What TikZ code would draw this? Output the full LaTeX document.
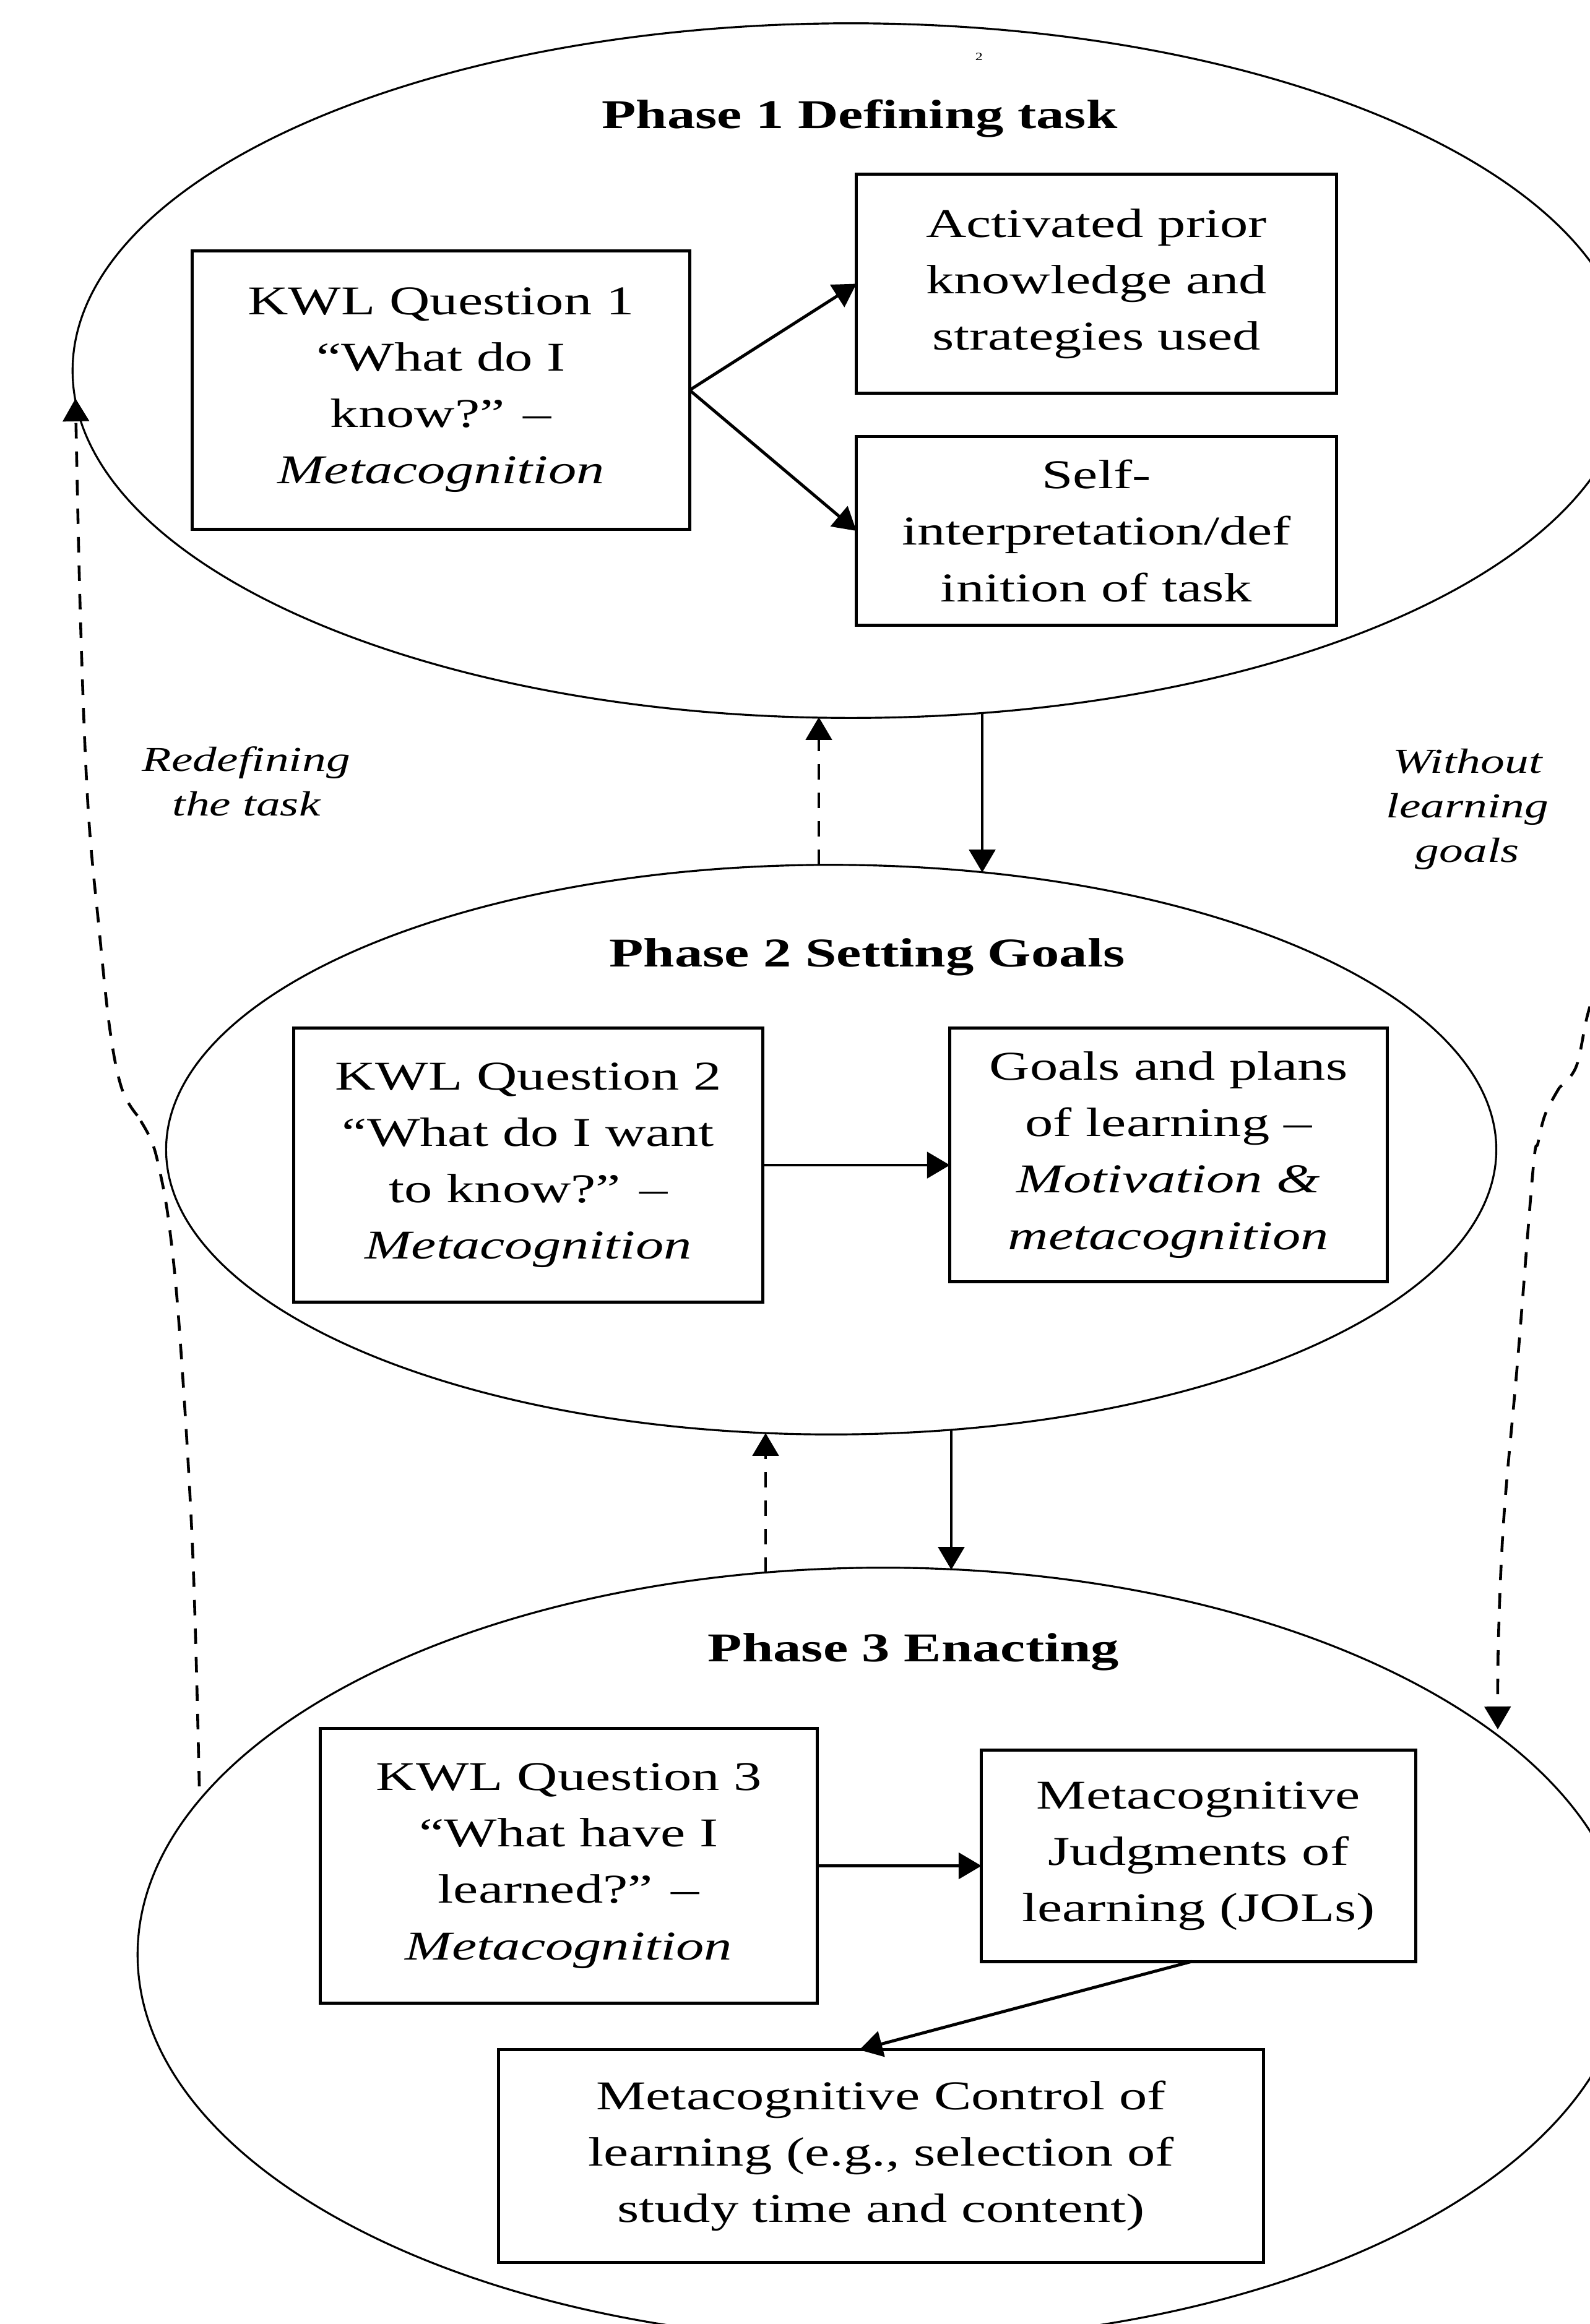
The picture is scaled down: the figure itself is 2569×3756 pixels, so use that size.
\documentclass[tikz,border=0pt]{standalone}
\usepackage{fontspec}
\setmainfont{Liberation Serif}[FakeStretch=1.37]
\usetikzlibrary{shapes.geometric,arrows.meta,calc}
\newcommand\kwlbody{\fontsize{18.8}{25.9}\selectfont}
\newcommand\kwllabel{\fontsize{16.1}{20.5}\selectfont\itshape}
\begin{document}
\begin{tikzpicture}[x=0.01cm,y=-0.01cm,
  phase/.style={draw, ellipse, line width=0.9pt, inner sep=0pt, outer sep=0pt},
  phasetitle/.style={font=\kwlbody\bfseries, inner sep=0pt, anchor=base},
  box/.style={draw, rectangle, line width=1.4pt, align=center, inner sep=0pt, outer sep=0pt, font=\kwlbody},
  arr/.style={line width=1.4pt, -{Triangle[length=10.5pt,width=12pt]}},
  dashline/.style={line width=1.3pt, dash pattern=on 7.1pt off 6pt},
  dasharr/.style={dashline, -{Triangle[length=10.5pt,width=12pt]}},
  sidelabel/.style={align=center, font=\kwllabel, inner sep=0pt}
]
\useasboundingbox (0,0) rectangle (2569,3756);
\fill[white] (0,0) rectangle (2569,3756);
\clip (0,0) rectangle (2569,3756);

% phases
\node[phase, minimum width=25.14cm, minimum height=11.22cm] (P1) at (1375,599) {};
\node[phase, minimum width=21.48cm, minimum height=9.2cm] (P2) at (1343,1858) {};
\node[phase, minimum width=24.08cm, minimum height=12.5cm] (P3) at (1427,3159) {};

\node[font=\fontsize{5}{6}\selectfont, inner sep=0pt] (pg) at (1582,92) {2};

\node[phasetitle] (T1) at (1389,207) {Phase 1 Defining task};
\node[phasetitle] (T2) at (1401,1562) {Phase 2 Setting Goals};
\node[phasetitle] (T3) at (1476,2685) {Phase 3 Enacting};

% boxes
\node[box, minimum width=8.03cm, minimum height=4.49cm] (K1) at (712.5,630.5)
  {KWL Question 1\\“What do I\\know?” –\\\textit{Metacognition}};
\node[box, minimum width=7.75cm, minimum height=3.53cm] (A1) at (1771.5,458.5)
  {Activated prior\\knowledge and\\strategies used};
\node[box, minimum width=7.75cm, minimum height=3.04cm] (S1) at (1771.5,858)
  {Self-\\interpretation/def\\inition of task};
\node[box, minimum width=7.57cm, minimum height=4.42cm] (K2) at (853.5,1883)
  {KWL Question 2\\“What do I want\\to know?” –\\\textit{Metacognition}};
\node[box, minimum width=7.06cm, minimum height=4.09cm] (G2) at (1888,1866.5)
  {Goals and plans\\of learning –\\\textit{Motivation \&}\\\textit{metacognition}};
\node[box, minimum width=8.02cm, minimum height=4.43cm] (K3) at (919,3015.5)
  {KWL Question 3\\“What have I\\learned?” –\\\textit{Metacognition}};
\node[box, minimum width=7.01cm, minimum height=3.41cm] (J3) at (1936.5,2999.5)
  {Metacognitive\\Judgments of\\learning (JOLs)};
\node[box, minimum width=12.35cm, minimum height=3.43cm] (C3) at (1423.5,3484.5)
  {Metacognitive Control of\\learning (e.g., selection of\\study time and content)};

% side labels
\node[sidelabel] (L1) at (398,1263) {Redefining\\the task};
\node[sidelabel] (L2) at (2371,1308) {Without\\learning\\goals};

% arrows inside phases
\draw[arr] (K1.east) -- (A1.west);
\draw[arr] (K1.east) -- (S1.west);
\draw[arr] (K2.east) -- (K2.east -| G2.west);
\draw[arr] (K3.east) -- (K3.east -| J3.west);
\draw[arr] ([xshift=-0.11cm]J3.south) -- ([xshift=-0.35cm]C3.north);

% between phases
\coordinate (d12a) at ($(P2.center)+(-20,-460)$);
\coordinate (d12b) at ($(P1.center)+(-52,560)$);
\coordinate (s12a) at ($(P1.center)+(212,553)$);
\coordinate (s12b) at ($(P2.center)+(244,-448)$);
\coordinate (d23a) at ($(P3.center)+(-190,-617)$);
\coordinate (d23b) at ($(P2.center)+(-106,458)$);
\coordinate (s23a) at ($(P2.center)+(194,452)$);
\coordinate (s23b) at ($(P3.center)+(110,-622)$);
\draw[dasharr] (d12a) -- (d12b);
\draw[arr] (s12a) -- (s12b);
\draw[dasharr] (d23a) -- (d23b);
\draw[arr] (s23a) -- (s23b);

% left feedback loop (Redefining the task)
\coordinate (Lstart) at ($(P3.center)+(-1105,-272)$);
\coordinate (Lkink) at (222,1803);
\coordinate (Lend) at ($(P1.center)+(-1253,45)$);
\draw[dashline] plot[smooth, tension=0.6] coordinates
  {(Lstart) (311,2500) (290,2150) (273,1977) (256,1883) (243,1840) (Lkink)};
\draw[dasharr] plot[smooth, tension=0.6] coordinates
  {(Lkink) (197,1760) (178,1667) (160,1500) (142,1300) (130,1000) (Lend)};

% right loop (Without learning goals)
\coordinate (Rstart) at (2600,1540);
\coordinate (Rkink) at (2520,1757);
\coordinate (Rend) at ($(P3.center)+(993,-364)$);
\draw[dashline] plot[smooth, tension=0.6] coordinates
  {(Rstart) (2567,1633) (2547,1723) (Rkink)};
\draw[dasharr] plot[smooth, tension=0.6] coordinates
  {(Rkink) (2497,1800) (2485,1847) (2477,1890) (2452,2200) (2430,2450) (2421,2650) (Rend)};
\end{tikzpicture}
\end{document}
